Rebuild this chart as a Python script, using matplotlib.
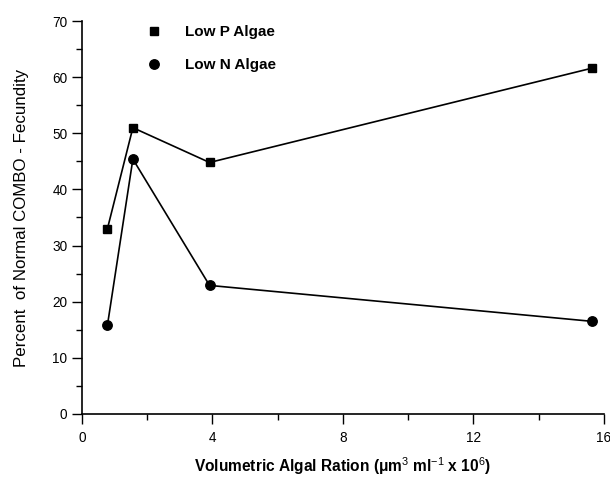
import numpy as np
import matplotlib.pyplot as plt
import matplotlib as mpl
from matplotlib.ticker import MultipleLocator

plt.rcParams['font.family'] = ['Liberation Sans', 'DejaVu Sans']
plt.rcParams['mathtext.fontset'] = 'custom'
plt.rcParams['mathtext.rm'] = 'Liberation Sans'
plt.rcParams['mathtext.bf'] = 'Liberation Sans:bold'

# ---------- data ----------
ration = [0.78, 1.56, 3.91, 15.63]
low_p = [33.0, 51.0, 44.8, 61.6]
low_n = [15.8, 45.4, 22.9, 16.5]

# ---------- plot ----------
fig = plt.figure(figsize=(6.10, 4.78), dpi=100)
ax = fig.add_axes([0.1344, 0.134, 0.8557, 0.822])

ax.plot(ration, low_p, color='black', lw=1.2, marker='s', ms=6,
        label='Low P Algae')
ax.plot(ration, low_n, color='black', lw=1.2, marker='o', ms=6.8,
        label='Low N Algae')

ax.set_xlim(0, 16)
ax.set_ylim(0, 70)
ax.xaxis.set_major_locator(MultipleLocator(4))
ax.xaxis.set_minor_locator(MultipleLocator(2))
ax.yaxis.set_major_locator(MultipleLocator(10))
ax.yaxis.set_minor_locator(MultipleLocator(5))
ax.tick_params(which='major', direction='out', length=7, width=1, labelsize=9.8)
ax.tick_params(which='minor', direction='out', length=4, width=1)
ax.tick_params(axis='x', pad=5)

for s in ['top', 'right']:
    ax.spines[s].set_visible(False)
for s in ['left', 'bottom']:
    ax.spines[s].set_linewidth(1.2)

ax.set_ylabel('Percent  of Normal COMBO - Fecundity', fontsize=12.2, labelpad=17)
ax.set_xlabel(r'Volumetric Algal Ration ($\mathbf{\mu}$m$^3$ ml$^{-1}$ x 10$^6$)',
              fontsize=11.2, fontweight='bold', labelpad=8)

leg = ax.legend(loc='upper left', bbox_to_anchor=(0.1, 1.025), frameon=False,
                handlelength=0.8, handletextpad=1.6, labelspacing=1.25,
                prop={'weight': 'bold', 'size': 11})
for h in leg.legend_handles:
    h.set_linestyle('none')

fig.savefig('out.png', dpi=100)
